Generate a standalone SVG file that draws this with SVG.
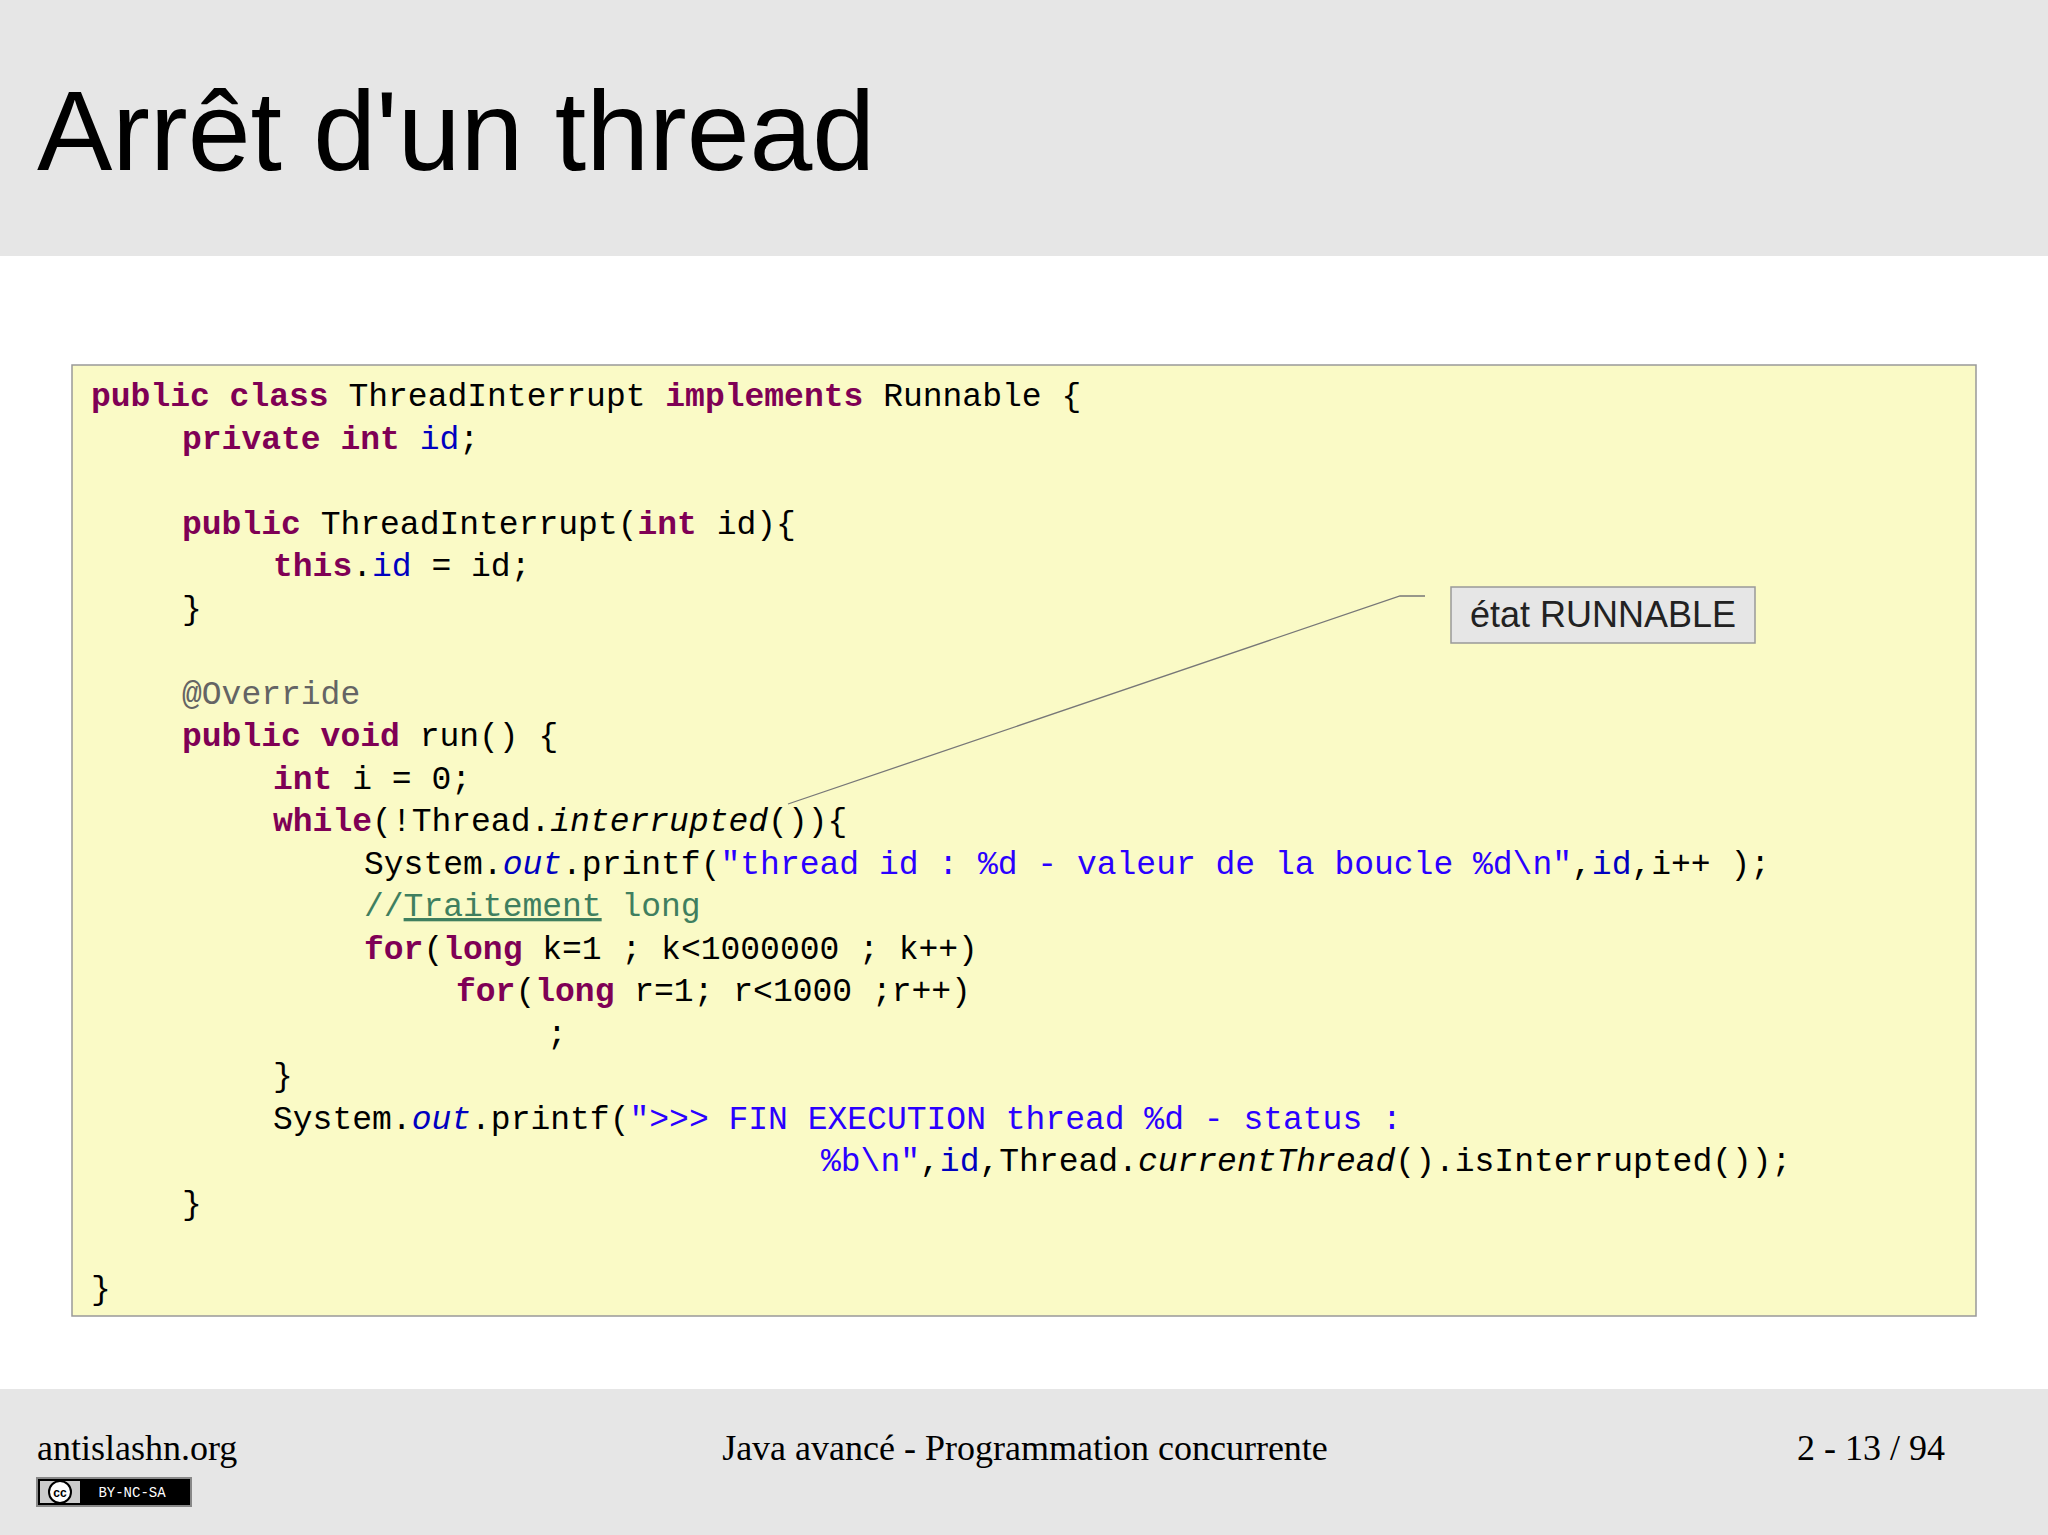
<svg xmlns="http://www.w3.org/2000/svg" width="2048" height="1535" viewBox="0 0 2048 1535">
<style>
.c{font-family:"Liberation Mono",monospace;font-size:33px;fill:#000;white-space:pre}
.k{fill:#7f0055;font-weight:bold}
.f{fill:#0000c0}
.s{fill:#2a00ff}
.cm{fill:#3f7f5f}
.a{fill:#646464}
.i{font-style:italic}
.ft{font-family:"Liberation Serif",serif;font-size:36px;fill:#000}
</style>
<rect x="0" y="0" width="2048" height="1535" fill="#fff"/>
<rect x="0" y="0" width="2048" height="256" fill="#e6e6e6"/>
<text x="37" y="170" font-family="Liberation Sans,sans-serif" font-size="113" fill="#000">Arrêt d'un thread</text>
<g id="code">
<rect x="72" y="365" width="1904" height="951" fill="#fafac6" stroke="#999" stroke-width="1.5"/>
<text class="c" x="91" y="406"><tspan class="k">public class</tspan> ThreadInterrupt <tspan class="k">implements</tspan> Runnable {</text>
<text class="c" x="182" y="449"><tspan class="k">private int</tspan> <tspan class="f">id</tspan>;</text>
<text class="c" x="182" y="534"><tspan class="k">public</tspan> ThreadInterrupt(<tspan class="k">int</tspan> id){</text>
<text class="c" x="273" y="576"><tspan class="k">this</tspan>.<tspan class="f">id</tspan> = id;</text>
<text class="c" x="182" y="619">}</text>
<text class="c a" x="182" y="704">@Override</text>
<text class="c" x="182" y="746"><tspan class="k">public void</tspan> run() {</text>
<text class="c" x="273" y="789"><tspan class="k">int</tspan> i = 0;</text>
<text class="c" x="273" y="831"><tspan class="k">while</tspan>(!Thread.<tspan class="i">interrupted</tspan>()){</text>
<text class="c" x="364" y="874">System.<tspan class="f i">out</tspan>.printf(<tspan class="s">"thread id : %d - valeur de la boucle %d\n"</tspan>,<tspan class="f">id</tspan>,i++ );</text>
<text class="c cm" x="364" y="916">//<tspan text-decoration="underline">Traitement</tspan> long</text>
<text class="c" x="364" y="959"><tspan class="k">for</tspan>(<tspan class="k">long</tspan> k=1 ; k&lt;1000000 ; k++)</text>
<text class="c" x="456" y="1001"><tspan class="k">for</tspan>(<tspan class="k">long</tspan> r=1; r&lt;1000 ;r++)</text>
<text class="c" x="547" y="1044">;</text>
<text class="c" x="273" y="1086">}</text>
<text class="c" x="273" y="1129">System.<tspan class="f i">out</tspan>.printf(<tspan class="s">"&gt;&gt;&gt; FIN EXECUTION thread %d - status :</tspan></text>
<text class="c" x="821" y="1171"><tspan class="s">%b\n"</tspan>,<tspan class="f">id</tspan>,Thread.<tspan class="i">currentThread</tspan>().isInterrupted());</text>
<text class="c" x="182" y="1214">}</text>
<text class="c" x="91" y="1299">}</text>
</g>
<g id="connectors">
<polyline points="1425,596 1400,596 788,804" fill="none" stroke="#777" stroke-width="1.3"/>
</g>
<g id="callout">
<rect x="1451" y="587" width="304" height="56" fill="#e6e6e6" stroke="#999" stroke-width="1.5"/>
<text x="1603" y="627" text-anchor="middle" font-family="Liberation Sans,sans-serif" font-size="36" fill="#222">état RUNNABLE</text>
</g>
<rect x="0" y="1389" width="2048" height="146" fill="#e6e6e6"/>
<text class="ft" x="37" y="1460">antislashn.org</text>
<text class="ft" x="1025" y="1460" text-anchor="middle">Java avancé - Programmation concurrente</text>
<text class="ft" x="1945" y="1460" text-anchor="end">2 - 13 / 94</text>
<g id="cc">
<rect x="37" y="1478" width="154" height="28" fill="#000" stroke="#888" stroke-width="2"/>
<rect x="40" y="1481" width="40" height="22" fill="#ccc"/>
<circle cx="60" cy="1492" r="11" fill="#fff" stroke="#000" stroke-width="2"/>
<text x="60" y="1497" text-anchor="middle" font-family="Liberation Sans,sans-serif" font-size="12" font-weight="bold">cc</text>
<text x="132" y="1497" text-anchor="middle" font-family="Liberation Mono,monospace" font-size="14" fill="#fff">BY-NC-SA</text>
</g>
</svg>
